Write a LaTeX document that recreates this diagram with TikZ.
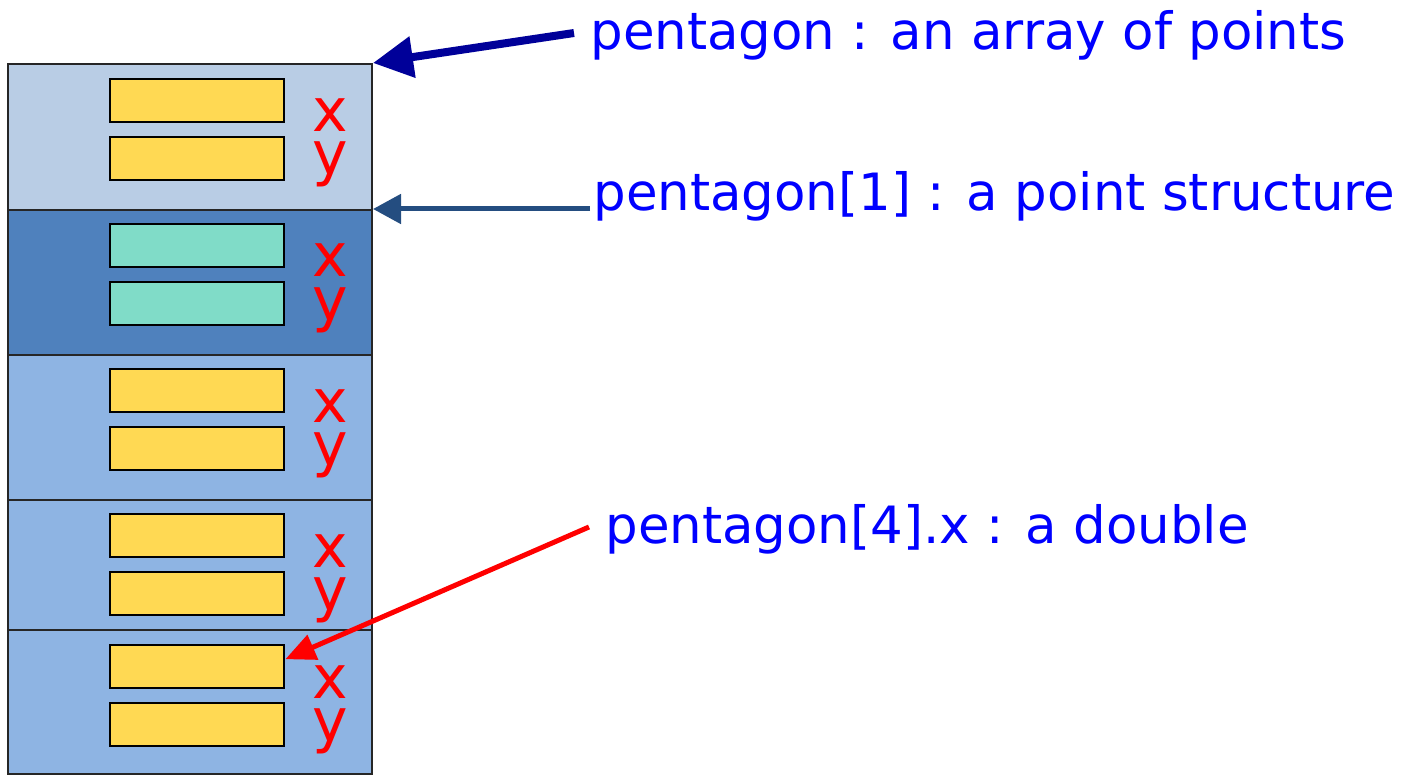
\documentclass[tikz,border=0pt]{standalone}
\usepackage{fontspec}
\setmainfont{DejaVu Sans}
\usetikzlibrary{arrows.meta}
\definecolor{rowA}{HTML}{B9CDE5}
\definecolor{rowB}{HTML}{4F81BD}
\definecolor{rowC}{HTML}{8EB4E3}
\definecolor{fieldY}{HTML}{FFD953}
\definecolor{fieldT}{HTML}{80DCC8}
\definecolor{txtblue}{HTML}{0000FF}
\definecolor{navyarrow}{HTML}{000099}
\definecolor{steelarrow}{HTML}{244D80}
\begin{document}
\begin{tikzpicture}[x=0.5pt,y=-0.5pt,
  rowbox/.style={draw=black!85, line width=1pt, inner sep=0pt, anchor=north west, minimum width=182pt},
  field/.style={draw=black, line width=1.2pt, inner sep=0pt, anchor=north west, minimum width=87pt, minimum height=21.5pt},
  lbl/.style={text=red, font=\fontsize{30}{21.5}\selectfont, align=center, anchor=base, inner sep=0pt},
  note/.style={text=txtblue, font=\fontsize{25.7}{26}\selectfont, anchor=base west, inner sep=0pt}]
\useasboundingbox (0,0) rectangle (1402,775);
% rows
\node[rowbox, fill=rowA, minimum height=73pt]   (r0) at (7,63)  {};
\node[rowbox, fill=rowB, minimum height=72.5pt] (r1) at (7,209) {};
\node[rowbox, fill=rowC, minimum height=72.5pt] (r2) at (7,354) {};
\node[rowbox, fill=rowC, minimum height=65pt]   (r3) at (7,499) {};
\node[rowbox, fill=rowC, minimum height=72pt]   (r4) at (7,629) {};
% fields
\node[field, fill=fieldY] (f0x) at (109,78)  {};
\node[field, fill=fieldY] (f0y) at (109,136) {};
\node[field, fill=fieldT] (f1x) at (109,223) {};
\node[field, fill=fieldT] (f1y) at (109,281) {};
\node[field, fill=fieldY] (f2x) at (109,368) {};
\node[field, fill=fieldY] (f2y) at (109,426) {};
\node[field, fill=fieldY] (f3x) at (109,513) {};
\node[field, fill=fieldY] (f3y) at (109,571) {};
\node[field, fill=fieldY] (f4x) at (109,644) {};
\node[field, fill=fieldY] (f4y) at (109,702) {};
% labels (anchor = baseline of the last line)
\node[lbl] (l0) at (330,175) {x\\y};
\node[lbl] (l1) at (330,320) {x\\y};
\node[lbl] (l2) at (330,465) {x\\y};
\node[lbl] (l3) at (330,610) {x\\y};
\node[lbl] (l4) at (330,741) {x\\y};
% notes
\node[note] (t1) at (590,50)  {pentagon : an array of points};
\node[note] (t2) at (593,211) {pentagon[1] : a point structure};
\node[note] (t3) at (605,543) {pentagon[4].x : a double};
\coordinate (s1) at (574,33);
\coordinate (s2) at (590,209);
\coordinate (s3) at (589,527);
% arrows
\draw[navyarrow, line width=4pt, -{Triangle[length=20pt,width=20pt]}] (s1) -- (r0.north east);
\draw[steelarrow, line width=2.5pt, -{Triangle[length=14pt,width=14.5pt]}] (s2) -- (r1.north east);
\draw[red, line width=2.5pt, -{Triangle[length=15pt,width=13pt]}] (s3) -- ([yshift=3.75pt]f4x.east);
\end{tikzpicture}
\end{document}
